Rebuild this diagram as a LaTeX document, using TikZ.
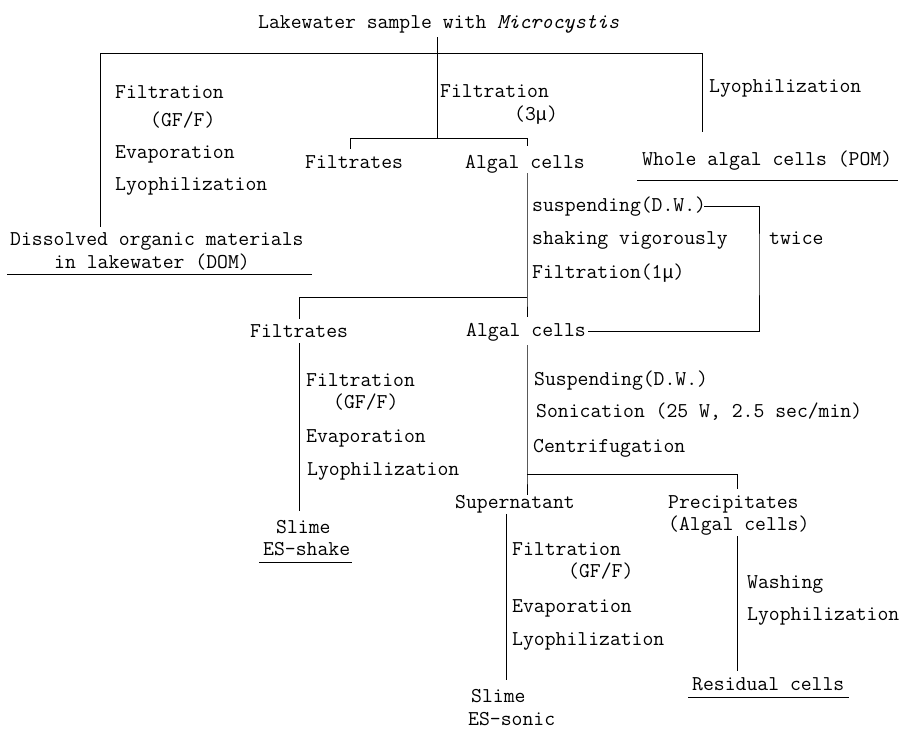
\documentclass[tikz,border=0pt]{standalone}
\usepackage{fontspec}
\newfontfamily\mufont[Scale=0.875]{Liberation Mono}
\usepackage{tikz}
\usetikzlibrary{positioning,calc}
\tikzset{
    txt/.style={anchor=base west, inner sep=0pt, font=\ttfamily\fontsize{21.1}{24}\selectfont},
    ln/.style={line width=1pt, black}
}
\newcommand{\micro}{{\mufont μ}}
\begin{document}
\begin{tikzpicture}[x=1pt, y=-1pt]
    \fill[white] (0,0) rectangle (908,731);
    \useasboundingbox (0,0) rectangle (908,731);
    \node[txt] (title) at (258,28) {Lakewater sample with \textit{Microcystis}};
    \node[txt] (lf1) at (115,98) {Filtration};
    \node[txt] (lf2) at (150,126) {(GF/F)};
    \node[txt] (lf3) at (115,158) {Evaporation};
    \node[txt] (lf4) at (115,190) {Lyophilization};
    \node[txt] (mf1) at (440,97) {Filtration};
    \node[txt] (mf2) at (514,120) {(3\micro)};
    \node[txt] (rlyo1) at (709,92) {Lyophilization};
    \node[txt] (pom) at (642,165) {Whole algal cells (POM)};
    \node[txt] (filt1) at (305,168) {Filtrates};
    \node[txt] (alg1) at (465,168) {Algal cells};
    \node[txt] (dom1) at (10,245) {Dissolved organic materials};
    \node[txt] (dom2) at (54,268) {in lakewater (DOM)};
    \node[txt] (susp) at (532,211) {suspending(D.W.)};
    \node[txt] (shake) at (532,244) {shaking vigorously};
    \node[txt] (fmu) at (532,278) {Filtration(1\micro)};
    \node[txt] (twice) at (769,244) {twice};
    \node[txt] (filt2) at (250,337) {Filtrates};
    \node[txt] (alg2) at (466,336) {Algal cells};
    \node[txt] (ff1) at (306,386) {Filtration};
    \node[txt] (ff2) at (333,408) {(GF/F)};
    \node[txt] (ff3) at (306,442) {Evaporation};
    \node[txt] (ff4) at (307,475) {Lyophilization};
    \node[txt] (slime1) at (276,533) {Slime};
    \node[txt] (esshake) at (263,555) {ES-shake};
    \node[txt] (sus2) at (534,385) {Suspending(D.W.)};
    \node[txt] (sonic) at (536,417) {Sonication (25 W, 2.5 sec/min)};
    \node[txt] (centri) at (533,452) {Centrifugation};
    \node[txt] (super) at (455,508) {Supernatant};
    \node[txt] (prec) at (668,508) {Precipitates};
    \node[txt] (prec2) at (668,530) {(Algal cells)};
    \node[txt] (sf1) at (512,555) {Filtration};
    \node[txt] (sf2) at (568,577) {(GF/F)};
    \node[txt] (sf3) at (512,612) {Evaporation};
    \node[txt] (sf4) at (512,645) {Lyophilization};
    \node[txt] (slime2) at (471,702) {Slime};
    \node[txt] (essonic) at (468,725) {ES-sonic};
    \node[txt] (wash) at (747,588) {Washing};
    \node[txt] (rlyo2) at (747,620) {Lyophilization};
    \node[txt] (resid) at (692,690) {Residual cells};
    \coordinate (jA) at (437,53);
    \coordinate (jL) at (100,53);
    \coordinate (jR) at (702,53);
    \coordinate (jB) at (437,138);
    \coordinate (jBl) at (350,138);
    \coordinate (jBr) at (527,138);
    \coordinate (jC) at (527,297);
    \coordinate (jCl) at (299,297);
    \coordinate (jT) at (759,260);
    \coordinate (jD) at (527,474);
    \coordinate (jDr) at (737,474);
    \coordinate (jE) at (506,513);
    \draw[ln, shorten <=4pt] (title.south -| jA) -- (jB);
    \draw[ln] (jL) -- (jR);
    \draw[ln, shorten >=5pt] (jL) -- (dom1.north -| jL);
    \draw[ln, shorten >=18pt] (jR) -- (pom.north -| jR);
    \draw[ln] (jBl) -- (jBr);
    \draw[ln, shorten >=6pt] (jBl) -- (filt1.north -| jBl);
    \draw[ln, shorten >=9pt] (jBr) -- (alg1.north -| jBr);
    \draw[ln, shorten >=6pt] (alg1.south -| jC) -- (jC) -- (alg2.north -| jC);
    \draw[ln] (jC) -- (jCl);
    \draw[ln, shorten >=5pt] (jCl) -- (filt2.north -| jCl);
    \draw[ln, shorten <=6pt, shorten >=9pt] (filt2.south -| jCl) -- (slime1.north -| jCl);
    \draw[ln, shorten <=-2pt, shorten >=2pt] (susp.east) -| (jT) |- (alg2.east);
    \draw[ln, shorten <=4pt] (alg2.south -| jD) -- (jD) -- (super.north -| jD);
    \draw[ln] (jD) -- (jDr);
    \draw[ln, shorten >=6pt] (jDr) -- (prec.north -| jDr);
    \draw[ln, shorten <=1pt, shorten >=9pt] (super.south -| jE) -- (slime2.north -| jE);
    \draw[ln, shorten <=1pt, shorten >=6pt] (prec2.south -| jDr) -- (resid.north -| jDr);
    \draw[ln] ([xshift=-5pt,yshift=-15pt]pom.base west) -- ([xshift=6pt,yshift=-15pt]pom.base east);
    \draw[ln] ([xshift=-3pt,yshift=-6pt]dom2.base -| dom1.west) -- ([xshift=8pt,yshift=-6pt]dom2.base -| dom1.east);
    \draw[ln] ([xshift=-4pt,yshift=-7pt]esshake.base west) -- ([xshift=2pt,yshift=-7pt]esshake.base east);
    \draw[ln] ([xshift=-4pt,yshift=-7pt]resid.base west) -- ([xshift=4pt,yshift=-7pt]resid.base east);
\end{tikzpicture}
\end{document}
